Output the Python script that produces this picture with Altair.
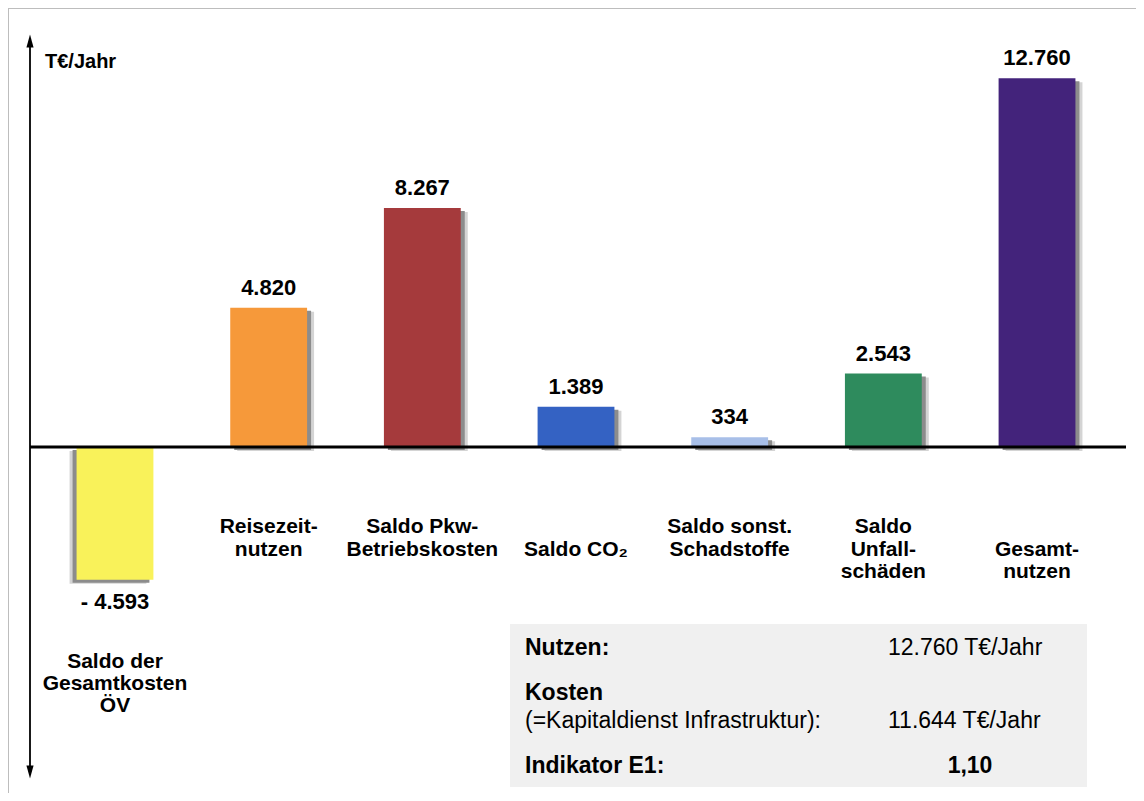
import altair as alt
import pandas as pd

# ---------------- data ----------------
categories = [
    "Saldo der Gesamtkosten ÖV",
    "Reisezeitnutzen",
    "Saldo Pkw-Betriebskosten",
    "Saldo CO2",
    "Saldo sonst. Schadstoffe",
    "Saldo Unfallschäden",
    "Gesamtnutzen",
]
label_lines = [
    ["Saldo der", "Gesamtkosten", "ÖV"],
    ["Reisezeit-", "nutzen"],
    ["Saldo Pkw-", "Betriebskosten"],
    [" ", "Saldo CO₂"],
    ["Saldo sonst.", "Schadstoffe"],
    ["Saldo", "Unfall-", "schäden"],
    [" ", "Gesamt-", "nutzen"],
]
values = [-4593, 4820, 8267, 1389, 334, 2543, 12760]
value_labels = ["- 4.593", "4.820", "8.267", "1.389", "334", "2.543", "12.760"]
colors = ["#F9F25A", "#F6993A", "#A53A3C", "#3462C3", "#A8BFE8", "#2E8B5D", "#43237B"]

unit_label = "T€/Jahr"
box_left = ["Nutzen:", "Kosten", "(=Kapitaldienst Infrastruktur):", "Indikator E1:"]
box_right = ["12.760 T€/Jahr", "11.644 T€/Jahr", "1,10"]

df = pd.DataFrame({
    "cat": categories,
    "lines": label_lines,
    "value": values,
    "zero": [0] * len(values),
    "vlabel": value_labels,
    "color": colors,
})
one = pd.DataFrame({"k": [0]})

FONT = "Liberation Sans"
W, H = 1128, 785

xscale = alt.Scale(domain=categories, paddingInner=0.5, paddingOuter=0.4202, align=0.531)
yscale = alt.Scale(domain=[-11972, 15190], nice=False, zero=False)
X = alt.X("cat:N", scale=xscale, axis=None, sort=categories)
Y = alt.Y("value:Q", scale=yscale, axis=None)
Y2 = alt.Y2("zero:Q")

base = alt.Chart(df)

pos = "datum.value > 0"
neg = "datum.value < 0"

def shadow(flt, color, dx, dy):
    return base.transform_filter(flt).mark_bar(
        color=color, xOffset=dx, yOffset=dy, y2Offset=dy
    ).encode(x=X, y=Y, y2=Y2)

shadows = [
    shadow(pos, "#d4d4d4", 7, 4),
    shadow(pos, "#8c8c8c", 4, 3),
    shadow(neg, "#d4d4d4", -7, 4),
    shadow(neg, "#8c8c8c", -4, 3),
]

bars = base.mark_bar().encode(
    x=X, y=Y, y2=Y2, color=alt.Color("color:N", scale=None)
)

zero_line = alt.Chart(one).mark_rule(color="black", strokeWidth=3).encode(
    x=alt.value(22), x2=alt.value(1118), y=alt.Y("k:Q", scale=yscale, axis=None)
)

val_pos = base.transform_filter(pos).mark_text(
    font=FONT, fontSize=22, fontWeight="bold", baseline="alphabetic", dy=-13, color="black"
).encode(x=X, y=Y, text="vlabel:N")
val_neg = base.transform_filter(neg).mark_text(
    font=FONT, fontSize=22, fontWeight="bold", baseline="alphabetic", dy=29, color="black"
).encode(x=X, y=Y, text="vlabel:N")

cat_pos = base.transform_filter(pos).mark_text(
    font=FONT, fontSize=21, fontWeight="bold", baseline="alphabetic", lineHeight=22.5, color="black"
).encode(x=X, y=alt.value(525), text="lines:N")
cat_neg = base.transform_filter(neg).mark_text(
    font=FONT, fontSize=21, fontWeight="bold", baseline="alphabetic", lineHeight=22, color="black"
).encode(x=X, y=alt.value(660), text="lines:N")

# vertical axis with arrowheads
vaxis = alt.Chart(one).mark_rule(color="black", strokeWidth=1.8).encode(
    x=alt.value(22), y=alt.value(36), y2=alt.value(762)
)
arrow_up = alt.Chart(one).mark_point(
    shape="M0,-1L0.55,1L-0.55,1Z", filled=True, size=169, color="black", opacity=1, strokeWidth=0
).encode(x=alt.value(22), y=alt.value(33))
arrow_down = alt.Chart(one).mark_point(
    shape="M0,1L0.55,-1L-0.55,-1Z", filled=True, size=169, color="black", opacity=1, strokeWidth=0
).encode(x=alt.value(22), y=alt.value(764))

unit = alt.Chart(one).mark_text(
    font=FONT, fontSize=20, fontWeight="bold", align="left", baseline="alphabetic", color="black"
).encode(x=alt.value(37), y=alt.value(60), text=alt.value(unit_label))

# frame
border_top = alt.Chart(one).mark_rule(color="#bdbdbd", strokeWidth=2).encode(
    x=alt.value(0), x2=alt.value(W), y=alt.value(0)
)
border_left = alt.Chart(one).mark_rule(color="#bdbdbd", strokeWidth=2).encode(
    x=alt.value(0), y=alt.value(0), y2=alt.value(H)
)

# info box
box = alt.Chart(one).mark_rect(color="#f0f0f0").encode(
    x=alt.value(502), x2=alt.value(1079), y=alt.value(616), y2=alt.value(779)
)

def box_text(txt, x, y, bold, align="left"):
    return alt.Chart(one).mark_text(
        font=FONT, fontSize=23, fontWeight="bold" if bold else "normal",
        align=align, baseline="alphabetic", color="black"
    ).encode(x=alt.value(x), y=alt.value(y), text=alt.value(txt))

box_texts = [
    box_text(box_left[0], 517, 647, True),
    box_text(box_right[0], 880, 647, False),
    box_text(box_left[1], 517, 692, True),
    box_text(box_left[2], 517, 720, False),
    box_text(box_right[1], 880, 720, False),
    box_text(box_left[3], 517, 765, True),
    box_text(box_right[2], 962, 765, True, align="center"),
]

chart = alt.layer(
    border_top, border_left,
    *shadows,
    bars, zero_line, vaxis, arrow_up, arrow_down, unit,
    val_pos, val_neg, cat_pos, cat_neg,
    box, *box_texts,
).properties(
    width=W, height=H, padding=0, autosize="none"
).configure_view(stroke=None)

chart.save("out.html", embed_options={"renderer": "svg", "actions": False})
